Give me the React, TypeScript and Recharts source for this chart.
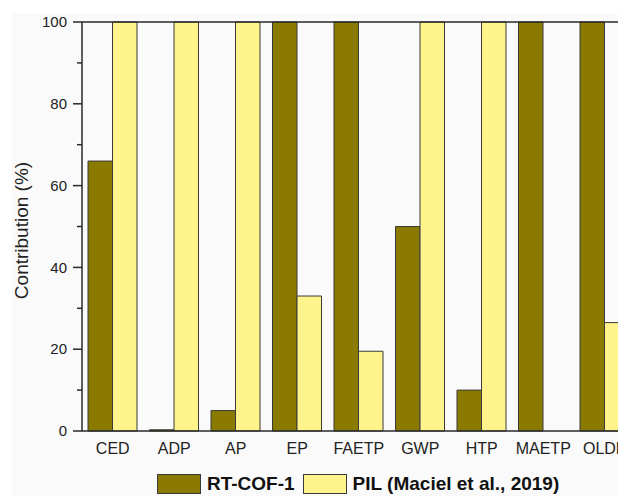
import React from 'react';
import { BarChart, Bar, XAxis, YAxis, Legend, ReferenceLine } from 'recharts';

const categories = ['CED', 'ADP', 'AP', 'EP', 'FAETP', 'GWP', 'HTP', 'MAETP', 'OLDP'];
const rtCof1 = [66, 0.3, 5, 100, 100, 50, 10, 100, 100];
const pil = [100, 100, 100, 33, 19.5, 100, 100, 0, 26.5];
const seriesNames = ['RT-COF-1', 'PIL (Maciel et al., 2019)'];
const yTicks = [0, 10, 20, 30, 40, 50, 60, 70, 80, 90, 100];
const majorTicks = [0, 20, 40, 60, 80, 100];

const data = categories.map((c, i) => ({ cat: c, rt: rtCof1[i], pil: pil[i] }));

const FONT = '"Liberation Sans", Arial, sans-serif';
const DARK = '#8b7a00';
const LIGHT = '#fff38c';
const STROKE = '#3a3a3a';
const AXIS = '#2a2a2a';
const seriesColors = [DARK, LIGHT];

const YTick = (props: any) => {
  const { x, y, payload } = props;
  const major = majorTicks.includes(payload.value);
  return (
    <g>
      <line x1={x - (major ? 9 : 5)} x2={x} y1={y} y2={y} stroke={AXIS} strokeWidth={1.5} />
      {major && (
        <text x={x - 15} y={y} dy="0.35em" textAnchor="end" fontSize={15} fill="#222" fontFamily={FONT}>
          {payload.value}
        </text>
      )}
    </g>
  );
};

const YLabel = (props: any) => {
  const vb = props.viewBox || {};
  const cx = vb.x - 0.5;
  const cy = vb.y + vb.height / 2 + 4;
  return (
    <text
      x={cx}
      y={cy}
      transform={`rotate(-90, ${cx}, ${cy})`}
      textAnchor="middle"
      dominantBaseline="central"
      fontSize={19}
      fill="#222"
      fontFamily={FONT}
    >
      Contribution (%)
    </text>
  );
};

const LegendContent = () => {
  return (
    <div style={{ display: 'flex', alignItems: 'center', height: 24, paddingLeft: 135, paddingTop: 2, fontFamily: FONT }}>
      {seriesNames.map((name, i) => (
        <div key={i} style={{ display: 'flex', alignItems: 'center', marginRight: 8 }}>
          <div
            style={{
              width: 42,
              height: 18,
              background: seriesColors[i],
              border: `1px solid ${STROKE}`,
              marginRight: 6,
            }}
          />
          <span style={{ fontSize: 19, fontWeight: 'bold', color: '#111', whiteSpace: 'nowrap' }}>{name}</span>
        </div>
      ))}
    </div>
  );
};

export default function App() {
  return (
    <div style={{ position: 'relative', width: 618, height: 488, overflow: 'hidden', background: '#fff' }}>
      <div style={{ position: 'absolute', left: 4, top: 5, right: 0, bottom: 0, background: '#fafafa' }} />
      <div style={{ position: 'absolute', left: 0, top: 0 }}>
        <BarChart
          width={660}
          height={488}
          data={data}
          margin={{ top: 14, right: 32.5, left: 14, bottom: 2 }}
          barGap={0}
        >
          <XAxis
            dataKey="cat"
            tickLine={false}
            tickSize={0}
            tickMargin={12}
            height={39}
            axisLine={{ stroke: AXIS, strokeWidth: 1.5 }}
            tick={{ fontSize: 16, fill: '#222', fontFamily: FONT }}
            interval={0}
          />
          <YAxis
            width={60}
            domain={[0, 100]}
            ticks={yTicks}
            interval={0}
            tickSize={0}
            tickMargin={0}
            tickLine={false}
            tick={<YTick />}
            axisLine={{ stroke: AXIS, strokeWidth: 1.5 }}
            label={{ content: <YLabel /> }}
          />
          <ReferenceLine y={100} stroke={AXIS} strokeWidth={1.5} />
          <Legend verticalAlign="bottom" height={24} content={<LegendContent />} />
          <Bar dataKey="rt" name={seriesNames[0]} fill={DARK} stroke={STROKE} strokeWidth={1} barSize={24.5} isAnimationActive={false} />
          <Bar dataKey="pil" name={seriesNames[1]} fill={LIGHT} stroke={STROKE} strokeWidth={1} barSize={24.5} isAnimationActive={false} />
        </BarChart>
      </div>
    </div>
  );
}
